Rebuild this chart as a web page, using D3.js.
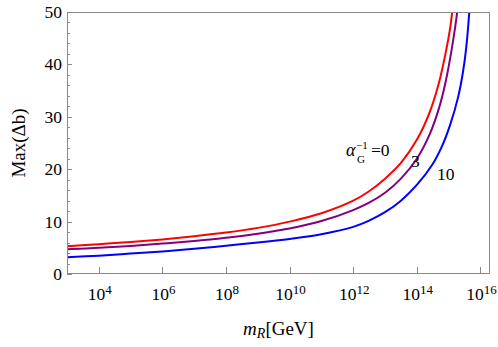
<!DOCTYPE html>
<html lang="en">
<head>
    <meta charset="UTF-8">
    <title>Max(Δb) vs m_R</title>
    <script src="https://d3js.org/d3.v7.min.js"></script>
    <style>
        body {
            margin: 0;
            background: #fff;
        }
        text {
            font-family: "Liberation Serif", "DejaVu Serif", serif;
            fill: #000;
        }
        .frame {
            fill: none;
            stroke: #8a8a8a;
            stroke-width: 1;
        }
        .tick-mark {
            stroke: #8a8a8a;
            stroke-width: 1;
        }
    </style>
</head>
<body>
    <svg id="chart" width="498" height="347"></svg>

    <script>
        // Données : log10(m_R / GeV) et Max(Δb)
        const alphaLabels = ["0", "3", "10"];

        const logM_a0 = [3, 4, 5, 6, 7, 8, 9, 10, 11, 12, 12.5, 13, 13.5, 14, 14.4, 14.7, 14.9, 15.05, 15.12, 15.2];
        const maxDb_a0 = [5.3, 5.7, 6.1, 6.6, 7.2, 7.9, 8.8, 10.0, 11.6, 14.0, 15.8, 18.2, 21.2, 25.6, 30.8, 36.6, 42, 47, 50.5, 55];

        const logM_a3 = [3, 4, 5, 6, 7, 8, 9, 10, 11, 12, 12.5, 13, 13.5, 14, 14.4, 14.7, 14.9, 15.1, 15.27, 15.35];
        const maxDb_a3 = [4.7, 5.0, 5.35, 5.8, 6.3, 6.9, 7.7, 8.7, 10.1, 12.2, 13.6, 15.5, 18.2, 22.0, 26.6, 31.7, 36.5, 43, 50, 55];

        const logM_a10 = [3, 4, 5, 6, 7, 8, 9, 10, 11, 12, 12.5, 13, 13.5, 14, 14.5, 14.8, 15.05, 15.3, 15.45, 15.55, 15.65, 15.72];
        const maxDb_a10 = [3.2, 3.5, 3.9, 4.3, 4.8, 5.4, 6.0, 6.7, 7.6, 9.0, 10.2, 11.8, 14.0, 17.0, 21.0, 24.5, 28.5, 33.8, 38.5, 43, 50, 57];

        const xTickPowers = [4, 6, 8, 10, 12, 14, 16];
        const yMajorTicks = [0, 10, 20, 30, 40, 50];

        const series = [
            { label: alphaLabels[0], logM: logM_a0, values: maxDb_a0, color: "#ff0000" },
            { label: alphaLabels[1], logM: logM_a3, values: maxDb_a3, color: "#800080" },
            { label: alphaLabels[2], logM: logM_a10, values: maxDb_a10, color: "#0000ff" }
        ];

        // Zone du graphique
        const plotLeft = 67, plotRight = 490, plotTop = 12, plotBottom = 274;

        const svg = d3.select("#chart");

        const x = d3.scaleLog()
            .domain([1e3, 2e16])
            .range([plotLeft, plotRight]);

        const y = d3.scaleLinear()
            .domain([0, 50])
            .range([plotBottom, plotTop]);

        svg.append("defs").append("clipPath")
            .attr("id", "plot-clip")
            .append("rect")
            .attr("x", plotLeft)
            .attr("y", plotTop)
            .attr("width", plotRight - plotLeft)
            .attr("height", plotBottom - plotTop);

        // Courbes
        const line = d3.line()
            .x(d => x(Math.pow(10, d[0])))
            .y(d => y(d[1]))
            .curve(d3.curveCatmullRom.alpha(0.5));

        svg.append("g")
            .attr("clip-path", "url(#plot-clip)")
            .selectAll("path")
            .data(series)
            .join("path")
            .attr("d", s => line(s.logM.map((l, i) => [l, s.values[i]])))
            .attr("fill", "none")
            .attr("stroke", s => s.color)
            .attr("stroke-width", 2);

        // Cadre
        svg.append("rect")
            .attr("class", "frame")
            .attr("x", plotLeft + 0.5)
            .attr("y", plotTop + 0.5)
            .attr("width", plotRight - plotLeft - 1)
            .attr("height", plotBottom - plotTop - 1);

        // Axe X : graduations vers l'intérieur
        const xTicks = svg.append("g");
        xTicks.selectAll("line")
            .data(xTickPowers)
            .join("line")
            .attr("class", "tick-mark")
            .attr("x1", p => Math.round(x(Math.pow(10, p))) + 0.5)
            .attr("x2", p => Math.round(x(Math.pow(10, p))) + 0.5)
            .attr("y1", plotBottom)
            .attr("y2", plotBottom - 7);

        const xLabels = xTicks.selectAll("text")
            .data(xTickPowers)
            .join("text")
            .attr("x", p => x(Math.pow(10, p)) + 1)
            .attr("y", 300)
            .attr("text-anchor", "middle")
            .style("font-size", "17.5px");
        xLabels.append("tspan").text("10");
        xLabels.append("tspan")
            .attr("dy", -6.5)
            .style("font-size", "13px")
            .text(p => p);

        // Axe Y : graduations majeures et mineures
        const yMinor = d3.range(0, 51, 2).filter(v => v % 10 !== 0);
        const yTicks = svg.append("g");
        yTicks.selectAll("line.major")
            .data(yMajorTicks)
            .join("line")
            .attr("class", "tick-mark major")
            .attr("x1", plotLeft)
            .attr("x2", plotLeft + 5)
            .attr("y1", v => Math.round(y(v)) + 0.5)
            .attr("y2", v => Math.round(y(v)) + 0.5);
        yTicks.selectAll("line.minor")
            .data(yMinor)
            .join("line")
            .attr("class", "tick-mark minor")
            .attr("x1", plotLeft)
            .attr("x2", plotLeft + 3)
            .attr("y1", v => Math.round(y(v)) + 0.5)
            .attr("y2", v => Math.round(y(v)) + 0.5);
        yTicks.selectAll("text")
            .data(yMajorTicks)
            .join("text")
            .attr("x", 62)
            .attr("y", v => y(v) + 6)
            .attr("text-anchor", "end")
            .style("font-size", "17.5px")
            .text(v => v);

        // Titres des axes
        svg.append("text")
            .attr("transform", `translate(25,${(plotTop + plotBottom) / 2}) rotate(-90)`)
            .attr("text-anchor", "middle")
            .style("font-size", "19px")
            .text("Max(Δb)");

        const xTitle = svg.append("text")
            .attr("x", (plotLeft + plotRight) / 2)
            .attr("y", 335)
            .attr("text-anchor", "middle")
            .style("font-size", "19px");
        xTitle.append("tspan").style("font-style", "italic").text("m");
        xTitle.append("tspan").attr("dy", 3).style("font-style", "italic").style("font-size", "14px").text("R");
        xTitle.append("tspan").attr("dy", -3).text("[GeV]");

        // Étiquettes des courbes
        svg.append("text")
            .attr("x", 346).attr("y", 156)
            .style("font-size", "18px").style("font-style", "italic")
            .text("α");
        svg.append("text")
            .attr("x", 356).attr("y", 148.5)
            .style("font-size", "11px")
            .text("−1");
        svg.append("text")
            .attr("x", 357).attr("y", 162.5)
            .style("font-size", "11px")
            .text("G");
        svg.append("text")
            .attr("x", 371).attr("y", 156)
            .style("font-size", "17.5px")
            .text("=" + alphaLabels[0]);
        svg.append("text")
            .attr("x", 411).attr("y", 167)
            .style("font-size", "17.5px")
            .text(alphaLabels[1]);
        svg.append("text")
            .attr("x", 437).attr("y", 180)
            .style("font-size", "17.5px")
            .text(alphaLabels[2]);
    </script>
</body>
</html>
